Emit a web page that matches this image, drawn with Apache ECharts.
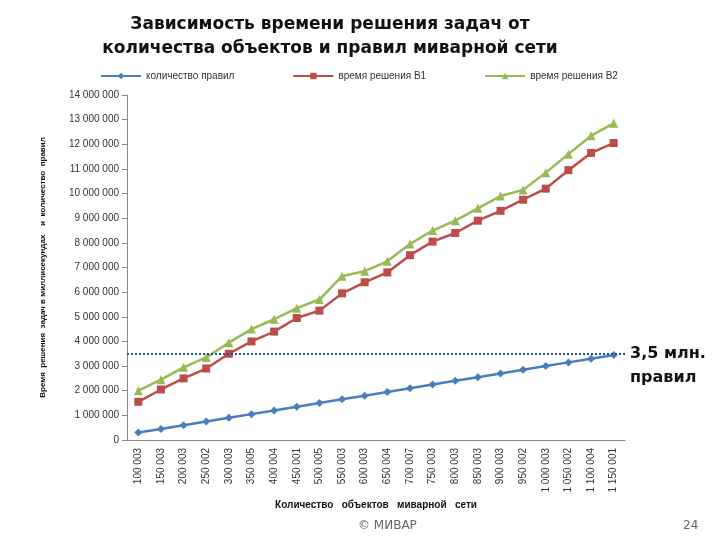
<!DOCTYPE html><html><head><meta charset="utf-8"><script src="https://cdn.jsdelivr.net/npm/echarts@6/dist/echarts.min.js"></script></head><body style="margin:0;background:#fff"><div id="c" style="width:720px;height:540px"></div><script>
const categories=['100 003','150 003','200 003','250 002','300 003','350 005','400 004','450 001','500 005','550 003','600 003','650 004','700 007','750 003','800 003','850 003','900 003','950 002','1 000 003','1 050 002','1 100 004','1 150 001'];
const rules=[0.3,0.45,0.6,0.75,0.9,1.05,1.2,1.35,1.5,1.65,1.8,1.95,2.1,2.25,2.4,2.55,2.7,2.85,3.0,3.15,3.3,3.45].map(v=>v*1e6);
const timeB1=[1.55,2.05,2.5,2.9,3.5,4.0,4.4,4.95,5.25,5.95,6.4,6.8,7.5,8.05,8.4,8.9,9.3,9.75,10.2,10.95,11.65,12.05].map(v=>v*1e6);
const timeB2=[2.0,2.45,2.95,3.35,3.95,4.5,4.9,5.35,5.7,6.65,6.85,7.25,7.95,8.5,8.9,9.4,9.9,10.15,10.85,11.6,12.35,12.85].map(v=>v*1e6);
const fmt=v=>String(v).replace(/\B(?=(\d{3})+(?!\d))/g,' ');
const ch=echarts.init(document.getElementById('c'));
ch.setOption({
 title:{text:'Зависимость времени решения задач от\nколичества объектов и правил миварной сети',left:325,top:8,textAlign:'center',textStyle:{fontFamily:'DejaVu Sans',fontSize:17,fontWeight:'bold',lineHeight:24,color:'#111'}},
 legend:{top:66,left:95,itemGap:58,itemWidth:40,itemHeight:8,textStyle:{fontSize:10,color:'#333'},data:['количество правил','время решения В1','время решения В2']},
 grid:{left:127,right:95,top:95,bottom:100},
 xAxis:{type:'category',data:categories,boundaryGap:true,axisLine:{lineStyle:{color:'#888'}},axisTick:{lineStyle:{color:'#888'}},axisLabel:{rotate:90,fontSize:10,color:'#333',interval:0},name:'Количество   объектов   миварной   сети',nameLocation:'middle',nameGap:60,nameTextStyle:{fontSize:10,fontWeight:'bold',color:'#111'}},
 yAxis:{type:'value',min:0,max:14000000,interval:1000000,splitLine:{show:false},axisLine:{show:true,lineStyle:{color:'#888'}},axisTick:{show:true,lineStyle:{color:'#888'}},axisLabel:{fontSize:10,color:'#333',formatter:fmt},name:'Время  решения  задач в миллисекундах    и  количество  правил',nameLocation:'middle',nameGap:80,nameTextStyle:{fontSize:8,fontWeight:'bold',color:'#111'}},
 series:[
  {name:'количество правил',type:'line',data:rules,symbol:'diamond',symbolSize:8,itemStyle:{color:'#4a7ebb'},lineStyle:{width:2.5,color:'#4a7ebb'},
   markLine:{silent:true,symbol:'none',label:{show:false},lineStyle:{type:'dotted',color:'#1f4e9c',width:2},data:[{yAxis:3500000}]}},
  {name:'время решения В1',type:'line',data:timeB1,symbol:'rect',symbolSize:8,itemStyle:{color:'#be4b48'},lineStyle:{width:2.5,color:'#be4b48'}},
  {name:'время решения В2',type:'line',data:timeB2,symbol:'triangle',symbolSize:9,itemStyle:{color:'#98b954'},lineStyle:{width:2.5,color:'#98b954'}}
 ],
 graphic:[
  {type:'text',left:630,top:342,style:{text:'3,5 млн.\nправил',font:'bold 16px DejaVu Sans',fill:'#111',lineHeight:24}},
  {type:'text',left:358,top:520,style:{text:'© МИВАР',font:'12px DejaVu Sans',fill:'#666'}},
  {type:'text',left:683,top:520,style:{text:'24',font:'12px DejaVu Sans',fill:'#666'}}
 ]
});
</script></body></html>
